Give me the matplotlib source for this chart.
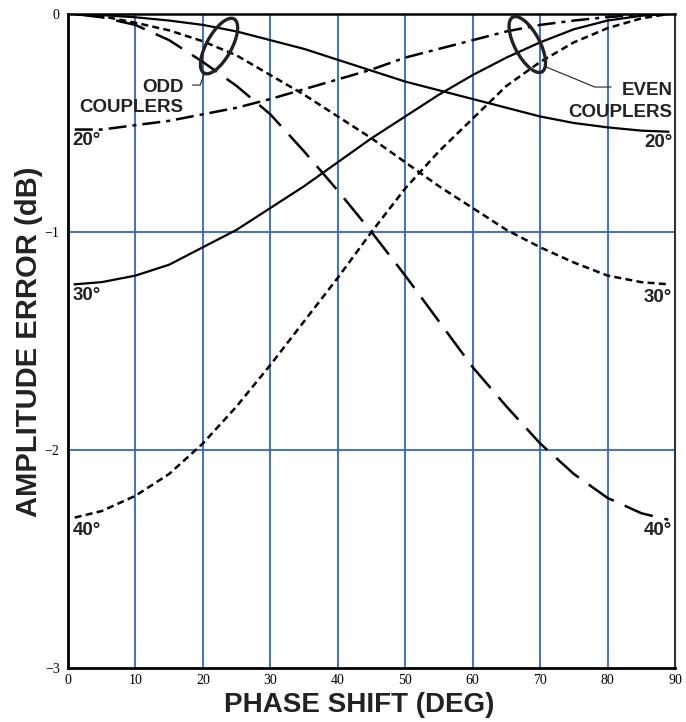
import matplotlib.pyplot as plt
import matplotlib.transforms as transforms
from matplotlib.patches import Ellipse

# values (phase in deg, amplitude error in dB)
phase = [1, 5, 10, 15, 20, 25, 30, 35, 40, 45, 50, 55, 60, 65, 70, 75, 80, 85, 89]

odd_20 = [0, -0.005, -0.015, -0.03, -0.05, -0.08, -0.12, -0.16, -0.21, -0.26,
          -0.31, -0.35, -0.39, -0.43, -0.47, -0.50, -0.52, -0.535, -0.54]
odd_30 = [0, -0.01, -0.04, -0.075, -0.125, -0.19, -0.28, -0.37, -0.47, -0.57,
          -0.68, -0.79, -0.89, -0.99, -1.07, -1.14, -1.20, -1.23, -1.24]
odd_40 = [0, -0.015, -0.05, -0.12, -0.22, -0.33, -0.46, -0.63, -0.81, -1.00,
          -1.20, -1.41, -1.62, -1.80, -1.97, -2.11, -2.22, -2.29, -2.32]

even_20 = [-0.53, -0.53, -0.51, -0.49, -0.46, -0.43, -0.39, -0.345, -0.30, -0.255,
           -0.20, -0.16, -0.12, -0.08, -0.05, -0.03, -0.014, -0.004, 0]
even_30 = [-1.24, -1.23, -1.20, -1.15, -1.07, -0.99, -0.89, -0.79, -0.68, -0.57,
           -0.47, -0.37, -0.28, -0.20, -0.13, -0.07, -0.03, -0.008, 0]
even_40 = [-2.31, -2.28, -2.21, -2.11, -1.97, -1.80, -1.61, -1.41, -1.21, -1.00,
           -0.80, -0.63, -0.48, -0.33, -0.22, -0.13, -0.065, -0.02, 0]

x_ticks = [0, 10, 20, 30, 40, 50, 60, 70, 80, 90]
y_ticks = [-3, -2, -1, 0]

blue = '#3366c4'
short_dash = (0, (2.8, 1.7))
long_dash = (0, (12, 4.8))
dash_dot = (0, (7.2, 2.4, 1.6, 2.4))

fig = plt.figure(figsize=(6.86, 7.22), dpi=100)
ax = fig.add_axes([0.0991, 0.0748, 0.8849, 0.9058])

for xv in x_ticks[1:-1]:
    ax.axvline(xv, color=blue, lw=1.3, zorder=1)
for yv in y_ticks[1:-1]:
    ax.axhline(yv, color=blue, lw=1.3, zorder=1)

# odd couplers
ax.plot(phase, odd_20, color='black', lw=1.6, zorder=3)
ax.plot(phase, odd_30, color='black', lw=1.8, linestyle=short_dash, zorder=3)
ax.plot(phase, odd_40, color='black', lw=1.8, linestyle=long_dash, zorder=3)
# even couplers
ax.plot(phase, even_20, color='black', lw=1.8, linestyle=dash_dot, zorder=3)
ax.plot(phase, even_30, color='black', lw=1.6, zorder=3)
ax.plot(phase, even_40, color='black', lw=1.8, linestyle=short_dash, zorder=3)

ax.set_xlim(0, 90)
ax.set_ylim(-3, 0)
ax.set_xticks(x_ticks)
ax.set_yticks(y_ticks)
ax.tick_params(length=0, labelsize=10)
ax.tick_params(axis='x', pad=4)
ax.tick_params(axis='y', pad=6)
for lab in ax.get_xticklabels() + ax.get_yticklabels():
    lab.set_family('Liberation Serif')

for side, w, c in [('left', 2.0, 'black'), ('bottom', 2.0, 'black'),
                   ('top', 1.8, 'black'), ('right', 1.5, '#333333')]:
    ax.spines[side].set_linewidth(w)
    ax.spines[side].set_color(c)

bold = dict(family='Liberation Sans', fontweight='bold', color='#222222')
ax.set_xlabel('PHASE SHIFT (DEG)', fontsize=20, **bold)
ax.set_ylabel('AMPLITUDE ERROR (dB)', fontsize=21, **bold)
ax.xaxis.set_label_coords(0.479, -0.036)
ax.yaxis.set_label_coords(-0.041, 0.4985)

# curve labels
lab_kw = dict(fontsize=13.5, va='center', **bold)
ax.text(0.7, -0.578, '20°', ha='left', **lab_kw)
ax.text(0.7, -1.29, '30°', ha='left', **lab_kw)
ax.text(0.7, -2.37, '40°', ha='left', **lab_kw)
ax.text(89.6, -0.59, '20°', ha='right', **lab_kw)
ax.text(89.6, -1.30, '30°', ha='right', **lab_kw)
ax.text(89.6, -2.37, '40°', ha='right', **lab_kw)

ax.text(17.1, -0.335, 'ODD', ha='right', **lab_kw)
ax.text(17.1, -0.43, 'COUPLERS', ha='right', **lab_kw)
ax.text(89.6, -0.35, 'EVEN', ha='right', **lab_kw)
ax.text(89.6, -0.45, 'COUPLERS', ha='right', **lab_kw)

# ellipses marking the groups
for (ex, ey, ang) in [(22.4, -0.147, 61), (68.1, -0.14, -62)]:
    tr = fig.dpi_scale_trans + transforms.ScaledTranslation(ex, ey, ax.transData)
    ax.add_patch(Ellipse((0, 0), 0.62, 0.25, angle=ang, fill=False,
                         edgecolor='#222222', lw=2.4, transform=tr, zorder=4))

ax.plot([20.3, 19.6, 18.5], [-0.266, -0.326, -0.326], color='#222222', lw=0.8, zorder=4)
ax.plot([70.9, 78.1, 80.5], [-0.243, -0.335, -0.335], color='#222222', lw=0.8, zorder=4)

fig.savefig('out.png', dpi=100)
